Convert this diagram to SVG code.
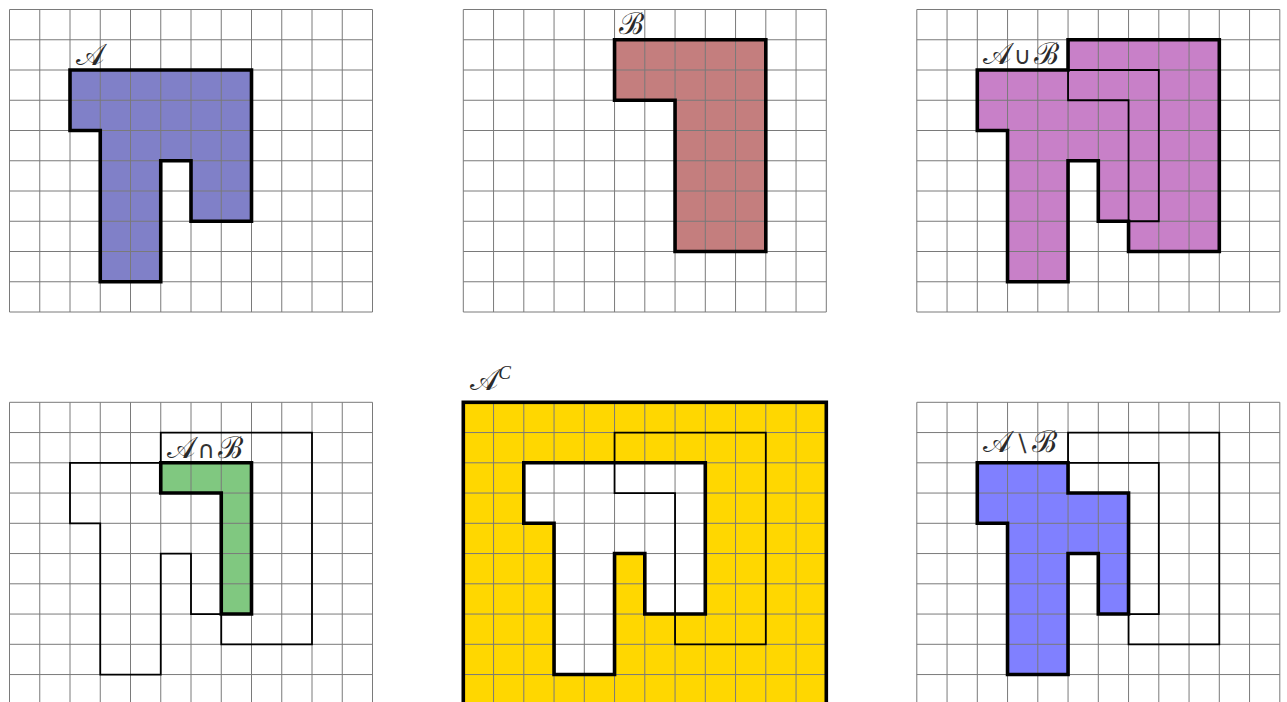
<svg xmlns="http://www.w3.org/2000/svg" xmlns:xlink="http://www.w3.org/1999/xlink" width="1287" height="702" viewBox="0 0 1287 702">
<style>
.grid{fill:none;stroke:#7a7a7a;stroke-width:1}
.thick{fill:none;stroke:#000;stroke-width:3.6;stroke-linejoin:miter}
.thin{fill:none;stroke:#000;stroke-width:1.8;stroke-linejoin:miter}
.border{fill:none;stroke:#000;stroke-width:3.6}
.lbl{font-family:"DejaVu Serif","Liberation Serif",serif;font-size:30px;font-style:normal;fill:#2a2a2a}
.op{font-family:"DejaVu Sans","Liberation Sans",sans-serif;font-size:24px;fill:#333}
</style>
<defs>
<path id="grid" class="grid" d="M0 0V302.5M30.25 0V302.5M60.5 0V302.5M90.75 0V302.5M121 0V302.5M151.25 0V302.5M181.5 0V302.5M211.75 0V302.5M242 0V302.5M272.25 0V302.5M302.5 0V302.5M332.75 0V302.5M363 0V302.5M0 0H363M0 30.25H363M0 60.5H363M0 90.75H363M0 121H363M0 151.25H363M0 181.5H363M0 211.75H363M0 242H363M0 272.25H363M0 302.5H363"/>
<polygon id="shapeA" points="60.5,60.5 242,60.5 242,211.75 181.5,211.75 181.5,151.25 151.25,151.25 151.25,272.25 90.75,272.25 90.75,121 60.5,121"/>
<polygon id="shapeB" points="151.25,30.25 302.5,30.25 302.5,242 211.75,242 211.75,90.75 151.25,90.75"/>
<polygon id="shapeU" points="60.5,60.5 151.25,60.5 151.25,30.25 302.5,30.25 302.5,242 211.75,242 211.75,211.75 181.5,211.75 181.5,151.25 151.25,151.25 151.25,272.25 90.75,272.25 90.75,121 60.5,121"/>
<polygon id="shapeI" points="151.25,60.5 242,60.5 242,211.75 211.75,211.75 211.75,90.75 151.25,90.75"/>
<polygon id="shapeD" points="60.5,60.5 151.25,60.5 151.25,90.75 211.75,90.75 211.75,211.75 181.5,211.75 181.5,151.25 151.25,151.25 151.25,272.25 90.75,272.25 90.75,121 60.5,121"/>
</defs>
<rect width="1287" height="702" fill="#fff"/>

<g id="panel-A" transform="translate(9.5,9.5)">
<use xlink:href="#shapeA" fill="#8080c8"/>
<use xlink:href="#grid"/>
<use xlink:href="#shapeA" class="thick"/>
<text class="lbl" x="66" y="55">𝒜</text>
</g>

<g id="panel-B" transform="translate(463.3,9.5)">
<use xlink:href="#shapeB" fill="#c47e7e"/>
<use xlink:href="#grid"/>
<use xlink:href="#shapeB" class="thick"/>
<text class="lbl" x="156" y="24">ℬ</text>
</g>

<g id="panel-union" transform="translate(916.8,9.5)">
<use xlink:href="#shapeU" fill="#c880c8"/>
<use xlink:href="#grid"/>
<use xlink:href="#shapeA" class="thin"/>
<use xlink:href="#shapeB" class="thin"/>
<use xlink:href="#shapeU" class="thick"/>
<text class="lbl" x="66" y="54">𝒜<tspan class="op" dx="3">∪</tspan><tspan dx="3">ℬ</tspan></text>
</g>

<g id="panel-intersection" transform="translate(9.5,402.3)">
<use xlink:href="#shapeI" fill="#80c880"/>
<use xlink:href="#grid"/>
<use xlink:href="#shapeA" class="thin"/>
<use xlink:href="#shapeB" class="thin"/>
<use xlink:href="#shapeI" class="thick"/>
<text class="lbl" x="157" y="56">𝒜<tspan class="op" dx="3">∩</tspan><tspan dx="3">ℬ</tspan></text>
</g>

<g id="panel-complement" transform="translate(463.3,402.3)">
<rect x="0" y="0" width="363" height="302.5" fill="#ffd700"/>
<use xlink:href="#shapeA" fill="#fff"/>
<use xlink:href="#grid"/>
<use xlink:href="#shapeB" class="thin"/>
<use xlink:href="#shapeA" class="thick"/>
<rect class="border" x="0" y="0" width="363" height="302.5"/>
<text class="lbl" x="7" y="-12">𝒜<tspan font-family="Liberation Serif" font-size="19" dy="-11" font-style="italic">C</tspan></text>
</g>

<g id="panel-difference" transform="translate(916.8,402.3)">
<use xlink:href="#shapeD" fill="#8080ff"/>
<use xlink:href="#grid"/>
<use xlink:href="#shapeA" class="thin"/>
<use xlink:href="#shapeB" class="thin"/>
<use xlink:href="#shapeD" class="thick"/>
<text class="lbl" x="66" y="50">𝒜<tspan class="op" dx="3">∖</tspan><tspan dx="3">ℬ</tspan></text>
</g>
</svg>
